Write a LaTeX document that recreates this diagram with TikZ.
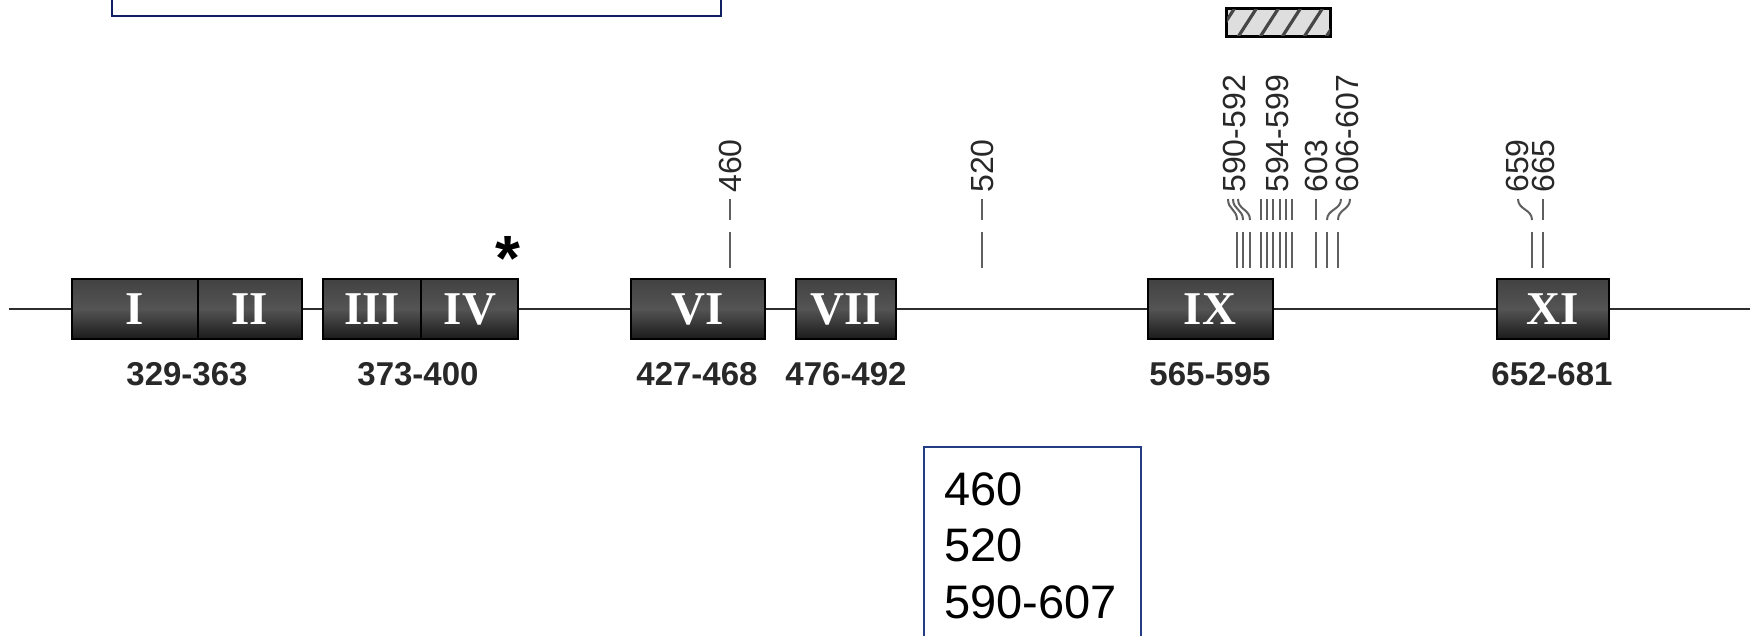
\documentclass[tikz,border=0pt]{standalone}
\usepackage{fontspec}
\setmainfont{Liberation Sans}
\newfontfamily\numeralfont{Liberation Serif}
\definecolor{navy}{RGB}{14,34,98}
\definecolor{framenavy}{RGB}{36,60,132}
\definecolor{axisgray}{RGB}{45,45,45}
\definecolor{tickgray}{RGB}{95,95,95}
\definecolor{labgray}{RGB}{40,40,40}
\definecolor{domtop}{RGB}{66,66,66}
\definecolor{dommid}{RGB}{84,84,84}
\definecolor{dombot}{RGB}{26,26,26}
\definecolor{hatchfill}{RGB}{222,222,222}
\definecolor{stripegray}{RGB}{70,70,70}
\tikzset{
  infobox/.style={draw=#1, line width=1.2pt, inner sep=0pt, fill=none},
  axisline/.style={draw=axisgray, line width=1.3pt},
  dombox/.style={draw=black, line width=1pt, top color=domtop, bottom color=dombot,
                 middle color=dommid, minimum height=30pt, inner sep=0pt},
  divider/.style={draw=black, line width=1pt},
  numeral/.style={text=white, inner sep=0pt,
                  font=\numeralfont\bfseries\fontsize{23.5pt}{23.5pt}\selectfont},
  rangelab/.style={text=labgray, inner sep=0pt,
                   font=\bfseries\fontsize{16.5pt}{16.5pt}\selectfont},
  sitelab/.style={rotate=90, anchor=west, inner sep=0pt, text=labgray,
                  font=\fontsize{16pt}{16pt}\selectfont},
  tick/.style={draw=tickgray, line width=1pt},
  asterisk/.style={inner sep=0pt, anchor=base,
                   font=\bfseries\fontsize{32pt}{32pt}\selectfont},
  hatchbox/.style={draw=black, line width=1pt, fill=hatchfill, inner sep=0pt},
  stripe/.style={draw=stripegray, line width=1.6pt},
}
\begin{document}
\begin{tikzpicture}[x=0.5pt,y=-0.5pt]
\useasboundingbox (0,0) rectangle (1756,636);
\clip (0,0) rectangle (1756,636);

% text frame at the top, mostly running off the page
\node[infobox=navy, anchor=south west, minimum width=304.5pt, minimum height=30pt]
  (infotop) at (111,17) {};

% hatched segment above the 590-607 cluster
\node[hatchbox, anchor=north west, minimum width=51.5pt, minimum height=13.5pt]
  (hatch) at (1226,8) {};
\begin{scope}
  \clip (hatch.south west) rectangle (hatch.north east);
  \foreach \k in {0,...,5}
    \draw[stripe] (1216+22*\k,37) -- (1236+22*\k,6);
\end{scope}
\draw[line width=1pt] (hatch.south west) rectangle (hatch.north east);

% protein backbone
\coordinate (axisL) at (9,309);
\coordinate (axisR) at (1750,309);
\draw[axisline] (axisL) -- (axisR);

% conserved domains
\node[dombox, minimum width=115pt]  (d12)  at (187,309) {};
\node[dombox, minimum width=97.5pt] (d34)  at (420.5,309) {};
\node[dombox, minimum width=67pt]   (d6)   at (698,309) {};
\node[dombox, minimum width=50pt]   (d7)   at (846,309) {};
\node[dombox, minimum width=62.5pt] (d9)   at (1210.5,309) {};
\node[dombox, minimum width=56pt]   (d11)  at (1553,309) {};
\coordinate (cut12) at (198,309);
\coordinate (cut34) at (421,309);
\draw[divider] (d12.north -| cut12) -- (d12.south -| cut12);
\draw[divider] (d34.north -| cut34) -- (d34.south -| cut34);

\node[numeral] (nI)   at (135,309)  {I};
\node[numeral] (nII)  at (250,309)  {II};
\node[numeral] (nIII) at (372,309)  {III};
\node[numeral] (nIV)  at (470,309)  {IV};
\node[numeral] (nVI)  at (698,309)  {VI};
\node[numeral] (nVII) at (846,309)  {VII};
\node[numeral] (nIX)  at (1210,309) {IX};
\node[numeral] (nXI)  at (1553,309) {XI};

% residue ranges of the domains
\node[rangelab] (r12) at (187,374)  {329-363};
\node[rangelab] (r34) at (418,374)  {373-400};
\node[rangelab] (r6)  at (697,374)  {427-468};
\node[rangelab] (r7)  at (846,374)  {476-492};
\node[rangelab] (r9)  at (1210,374) {565-595};
\node[rangelab] (r11) at (1552,374) {652-681};

\node[asterisk] (ast) at (508,281) {*};

% straight site ticks
\foreach \r/\x in {460/730, 520/982, 594/1261, 595/1267, 596/1273, 597/1280,
                   598/1286, 599/1292, 603/1316, 665/1543} {
  \coordinate (lo\r) at (\x,268);
  \coordinate (hi\r) at (\x,232);
  \coordinate (kb\r) at (\x,220);
  \coordinate (kt\r) at (\x,199);
  \draw[tick] (lo\r) -- (hi\r);
  \draw[tick] (kb\r) -- (kt\r);
}
% bent site ticks leading to shifted labels
\foreach \r/\xb/\xt in {590/1237/1228, 591/1243/1233, 592/1250/1238,
                        606/1327/1341, 607/1338/1350, 659/1532/1518} {
  \coordinate (lo\r) at (\xb,268);
  \coordinate (hi\r) at (\xb,232);
  \coordinate (kb\r) at (\xb,220);
  \coordinate (kt\r) at (\xt,199);
  \draw[tick] (lo\r) -- (hi\r);
  \draw[tick] (kb\r) .. controls (\xb,209) and (\xt,210) .. (kt\r);
}

% site labels
\foreach \t/\x/\nm in {460/730/sa, 520/982/sb, 590-592/1234/sc, 594-599/1277/sd,
                       603/1316/se, 606-607/1347/sf, 659/1517/sg, 665/1543/sh}
  \node[sitelab] (\nm) at (\x,193) {\t};

% text frame at the bottom
\node[infobox=framenavy, anchor=north west, minimum width=108.5pt, minimum height=110pt]
  (infobot) at (923,446) {};
\node[anchor=north west, inner sep=0pt, align=left,
      font=\fontsize{23.5pt}{28.3pt}\selectfont] (infotext) at (944,472)
  {460\\520\\590-607};
\end{tikzpicture}
\end{document}
